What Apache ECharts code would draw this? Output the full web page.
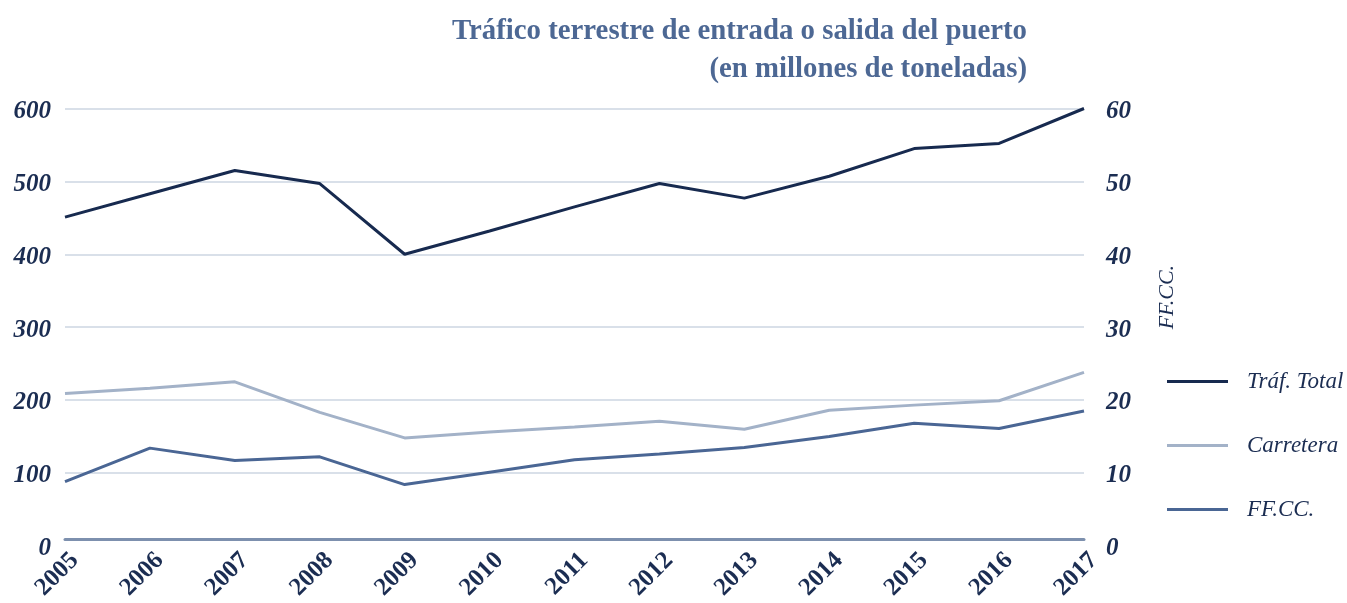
<!DOCTYPE html>
<html>
<head>
<meta charset="utf-8">
<script src="https://cdn.jsdelivr.net/npm/echarts@6/dist/echarts.min.js"></script>
<style>
  html, body { margin: 0; padding: 0; background: #fff; }
  #chart { width: 1347px; height: 603px; }
</style>
</head>
<body>
<div id="chart"></div>
<script>
  // datos
  var years = ['2005', '2006', '2007', '2008', '2009', '2010', '2011', '2012', '2013', '2014', '2015', '2016', '2017'];
  var trafTotal = [451, 483, 515, 497, 400, 432, 465, 497, 477, 507, 545, 552, 600];
  var carretera = [209, 216, 225, 183, 148, 156, 163, 171, 160, 186, 193, 199, 238];
  var ffcc = [8.8, 13.4, 11.7, 12.2, 8.4, 10.1, 11.8, 12.6, 13.5, 15.0, 16.8, 16.1, 18.5];
  var leftTicks = [0, 600, 100];
  var rightTicks = [0, 60, 10];

  var navy = '#1b2d52';
  var grid = '#cdd6e2';
  var serif = '"Liberation Serif", "DejaVu Serif", serif';

  var chart = echarts.init(document.getElementById('chart'));

  var option = {
    animation: false,
    title: {
      text: 'Tráfico terrestre de entrada o salida del puerto\n(en millones de toneladas)',
      left: 1022,
      top: 8,
      textAlign: 'right',
      textStyle: {
        fontFamily: serif,
        fontWeight: 'bold',
        fontSize: 28.8,
        lineHeight: 38,
        color: '#4d6894'
      }
    },
    legend: {
      orient: 'vertical',
      left: 1167,
      top: 370,
      padding: 0,
      icon: 'rect',
      itemWidth: 61,
      itemHeight: 3,
      itemGap: 41,
      data: ['Tráf. Total', 'Carretera', 'FF.CC.'],
      textStyle: {
        fontFamily: serif,
        fontStyle: 'italic',
        fontSize: 23,
        color: navy,
        padding: [0, 0, 0, 14]
      }
    },
    grid: {
      left: 65,
      right: 263,
      top: 108.5,
      bottom: 56,
      containLabel: false
    },
    xAxis: {
      type: 'category',
      data: years,
      boundaryGap: false,
      offset: -7,
      axisLine: { show: true, lineStyle: { color: '#7d90ae', width: 3 } },
      axisTick: { show: false },
      axisLabel: {
        rotate: 45,
        margin: 8,
        formatter: '{y|{value}}',
        rich: {
          y: {
            padding: [28, 0, 0, 0],
            fontFamily: serif,
            fontWeight: 'bold',
            fontSize: 25,
            color: navy
          }
        }
      },
      splitLine: { show: false }
    },
    yAxis: [
      {
        type: 'value',
        min: leftTicks[0],
        max: leftTicks[1],
        interval: leftTicks[2],
        axisLine: { show: false },
        axisTick: { show: false },
        axisLabel: {
          margin: 14,
          formatter: '{y|{value}}',
          rich: {
            y: {
              padding: [6, 0, 0, 0],
              fontFamily: serif,
              fontWeight: 'bold',
              fontStyle: 'italic',
              fontSize: 25,
              color: navy
            }
          }
        },
        splitLine: {
          lineStyle: {
            color: ['rgba(0,0,0,0)', grid, grid, grid, grid, grid, grid],
            width: 1.5
          }
        }
      },
      {
        type: 'value',
        position: 'right',
        min: rightTicks[0],
        max: rightTicks[1],
        interval: rightTicks[2],
        name: 'FF.CC.',
        nameLocation: 'middle',
        nameRotate: 90,
        nameGap: 72,
        nameTextStyle: {
          fontFamily: serif,
          fontStyle: 'italic',
          fontSize: 22,
          color: navy,
          padding: [0, 0, 0, 60]
        },
        axisLine: { show: false },
        axisTick: { show: false },
        axisLabel: {
          margin: 22,
          formatter: '{y|{value}}',
          rich: {
            y: {
              padding: [6, 0, 0, 0],
              fontFamily: serif,
              fontWeight: 'bold',
              fontStyle: 'italic',
              fontSize: 25,
              color: navy
            }
          }
        },
        splitLine: { show: false }
      }
    ],
    series: [
      {
        name: 'Tráf. Total',
        type: 'line',
        yAxisIndex: 0,
        data: trafTotal,
        symbol: 'none',
        color: '#172a4f',
        lineStyle: { color: '#172a4f', width: 3 }
      },
      {
        name: 'Carretera',
        type: 'line',
        yAxisIndex: 0,
        data: carretera,
        symbol: 'none',
        color: '#a3b2c8',
        lineStyle: { color: '#a3b2c8', width: 3 }
      },
      {
        name: 'FF.CC.',
        type: 'line',
        yAxisIndex: 1,
        data: ffcc,
        symbol: 'none',
        color: '#4a6694',
        lineStyle: { color: '#4a6694', width: 3 }
      }
    ]
  };

  chart.setOption(option);
</script>
</body>
</html>
